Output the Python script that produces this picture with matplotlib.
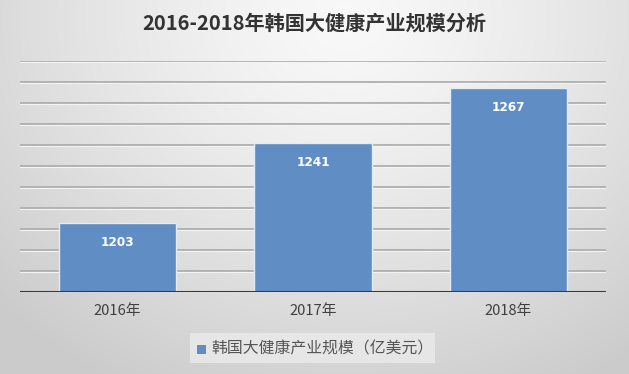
import numpy as np
import matplotlib
matplotlib.use("Agg")
import matplotlib.pyplot as plt
from matplotlib.patches import Rectangle

plt.rcParams['font.family'] = ['Noto Sans CJK SC', 'DejaVu Sans']

categories = ['2016年', '2017年', '2018年']
values = [1203, 1241, 1267]
series_name = '韩国大健康产业规模（亿美元）'
title = '2016-2018年韩国大健康产业规模分析'

W, H = 629, 374
fig = plt.figure(figsize=(W / 100, H / 100), dpi=100)

# background radial gradient
bg = fig.add_axes([0, 0, 1, 1], zorder=-10)
yy, xx = np.mgrid[0:H, 0:W]
cx, cy = W * 0.55, H * 0.05
r = np.sqrt(((xx - cx) / (W * 0.75)) ** 2 + ((yy - cy) / (H * 1.1)) ** 2)
r = np.clip(r, 0, 1)
light, dark = 0.975, 0.80
img = light - (light - dark) * r ** 1.3
bg.imshow(np.dstack([img, img, img]), aspect='auto', extent=[0, 1, 0, 1], origin='upper')
bg.axis('off')

ax = fig.add_axes([20 / W, (H - 292) / H, (606 - 20) / W, (292 - 61) / H])
ax.patch.set_alpha(0)
ymin, ymax = 1170, 1280
ax.set_ylim(ymin, ymax)
x = np.arange(len(categories))
ax.set_xlim(-0.5, len(categories) - 0.5)

for g in np.arange(ymin + 10, ymax + 1, 10):
    ax.axhline(g, color='#aeaeae', lw=1.3, zorder=1)
    ax.axhline(g - 0.35, color='#f4f4f4', lw=0.8, zorder=1)

bars = ax.bar(x, [v - ymin for v in values], bottom=ymin, width=0.6,
              color='#5f8dc4', edgecolor='#e3ebf5', linewidth=1.0, zorder=3,
              label=series_name)
for xi, v in zip(x, values):
    ax.text(xi, v - 9.3, str(v), ha='center', va='center', color='white',
            fontsize=8.7, fontweight='bold', zorder=4, family=['DejaVu Sans'])

ax.axhline(ymin, color='#3a3a3a', lw=2.2, zorder=5)
for s in ax.spines.values():
    s.set_visible(False)
ax.set_yticks([])
ax.set_xticks(x)
ax.set_xticklabels(categories, fontsize=10.6, color='#404040')
ax.tick_params(axis='x', length=0, pad=9)

fig.text(0.5, (H - 23) / H, title, ha='center', va='center', fontsize=14.5,
         fontweight='bold', color='#333333')

# legend box
fig.patches.append(Rectangle((190 / W, (H - 363) / H), (435 - 190) / W, 30 / H,
                             transform=fig.transFigure, facecolor='#ebebeb',
                             edgecolor='none', alpha=0.8, zorder=1))
fig.patches.append(Rectangle((197 / W, (H - 354) / H), 9 / W, 9 / H,
                             transform=fig.transFigure, facecolor='#5f8dc4',
                             edgecolor='none', zorder=2))
fig.text(211 / W, (H - 349) / H, series_name, ha='left', va='center',
         fontsize=11.4, color='#555555')

fig.savefig('out.png', dpi=100)
